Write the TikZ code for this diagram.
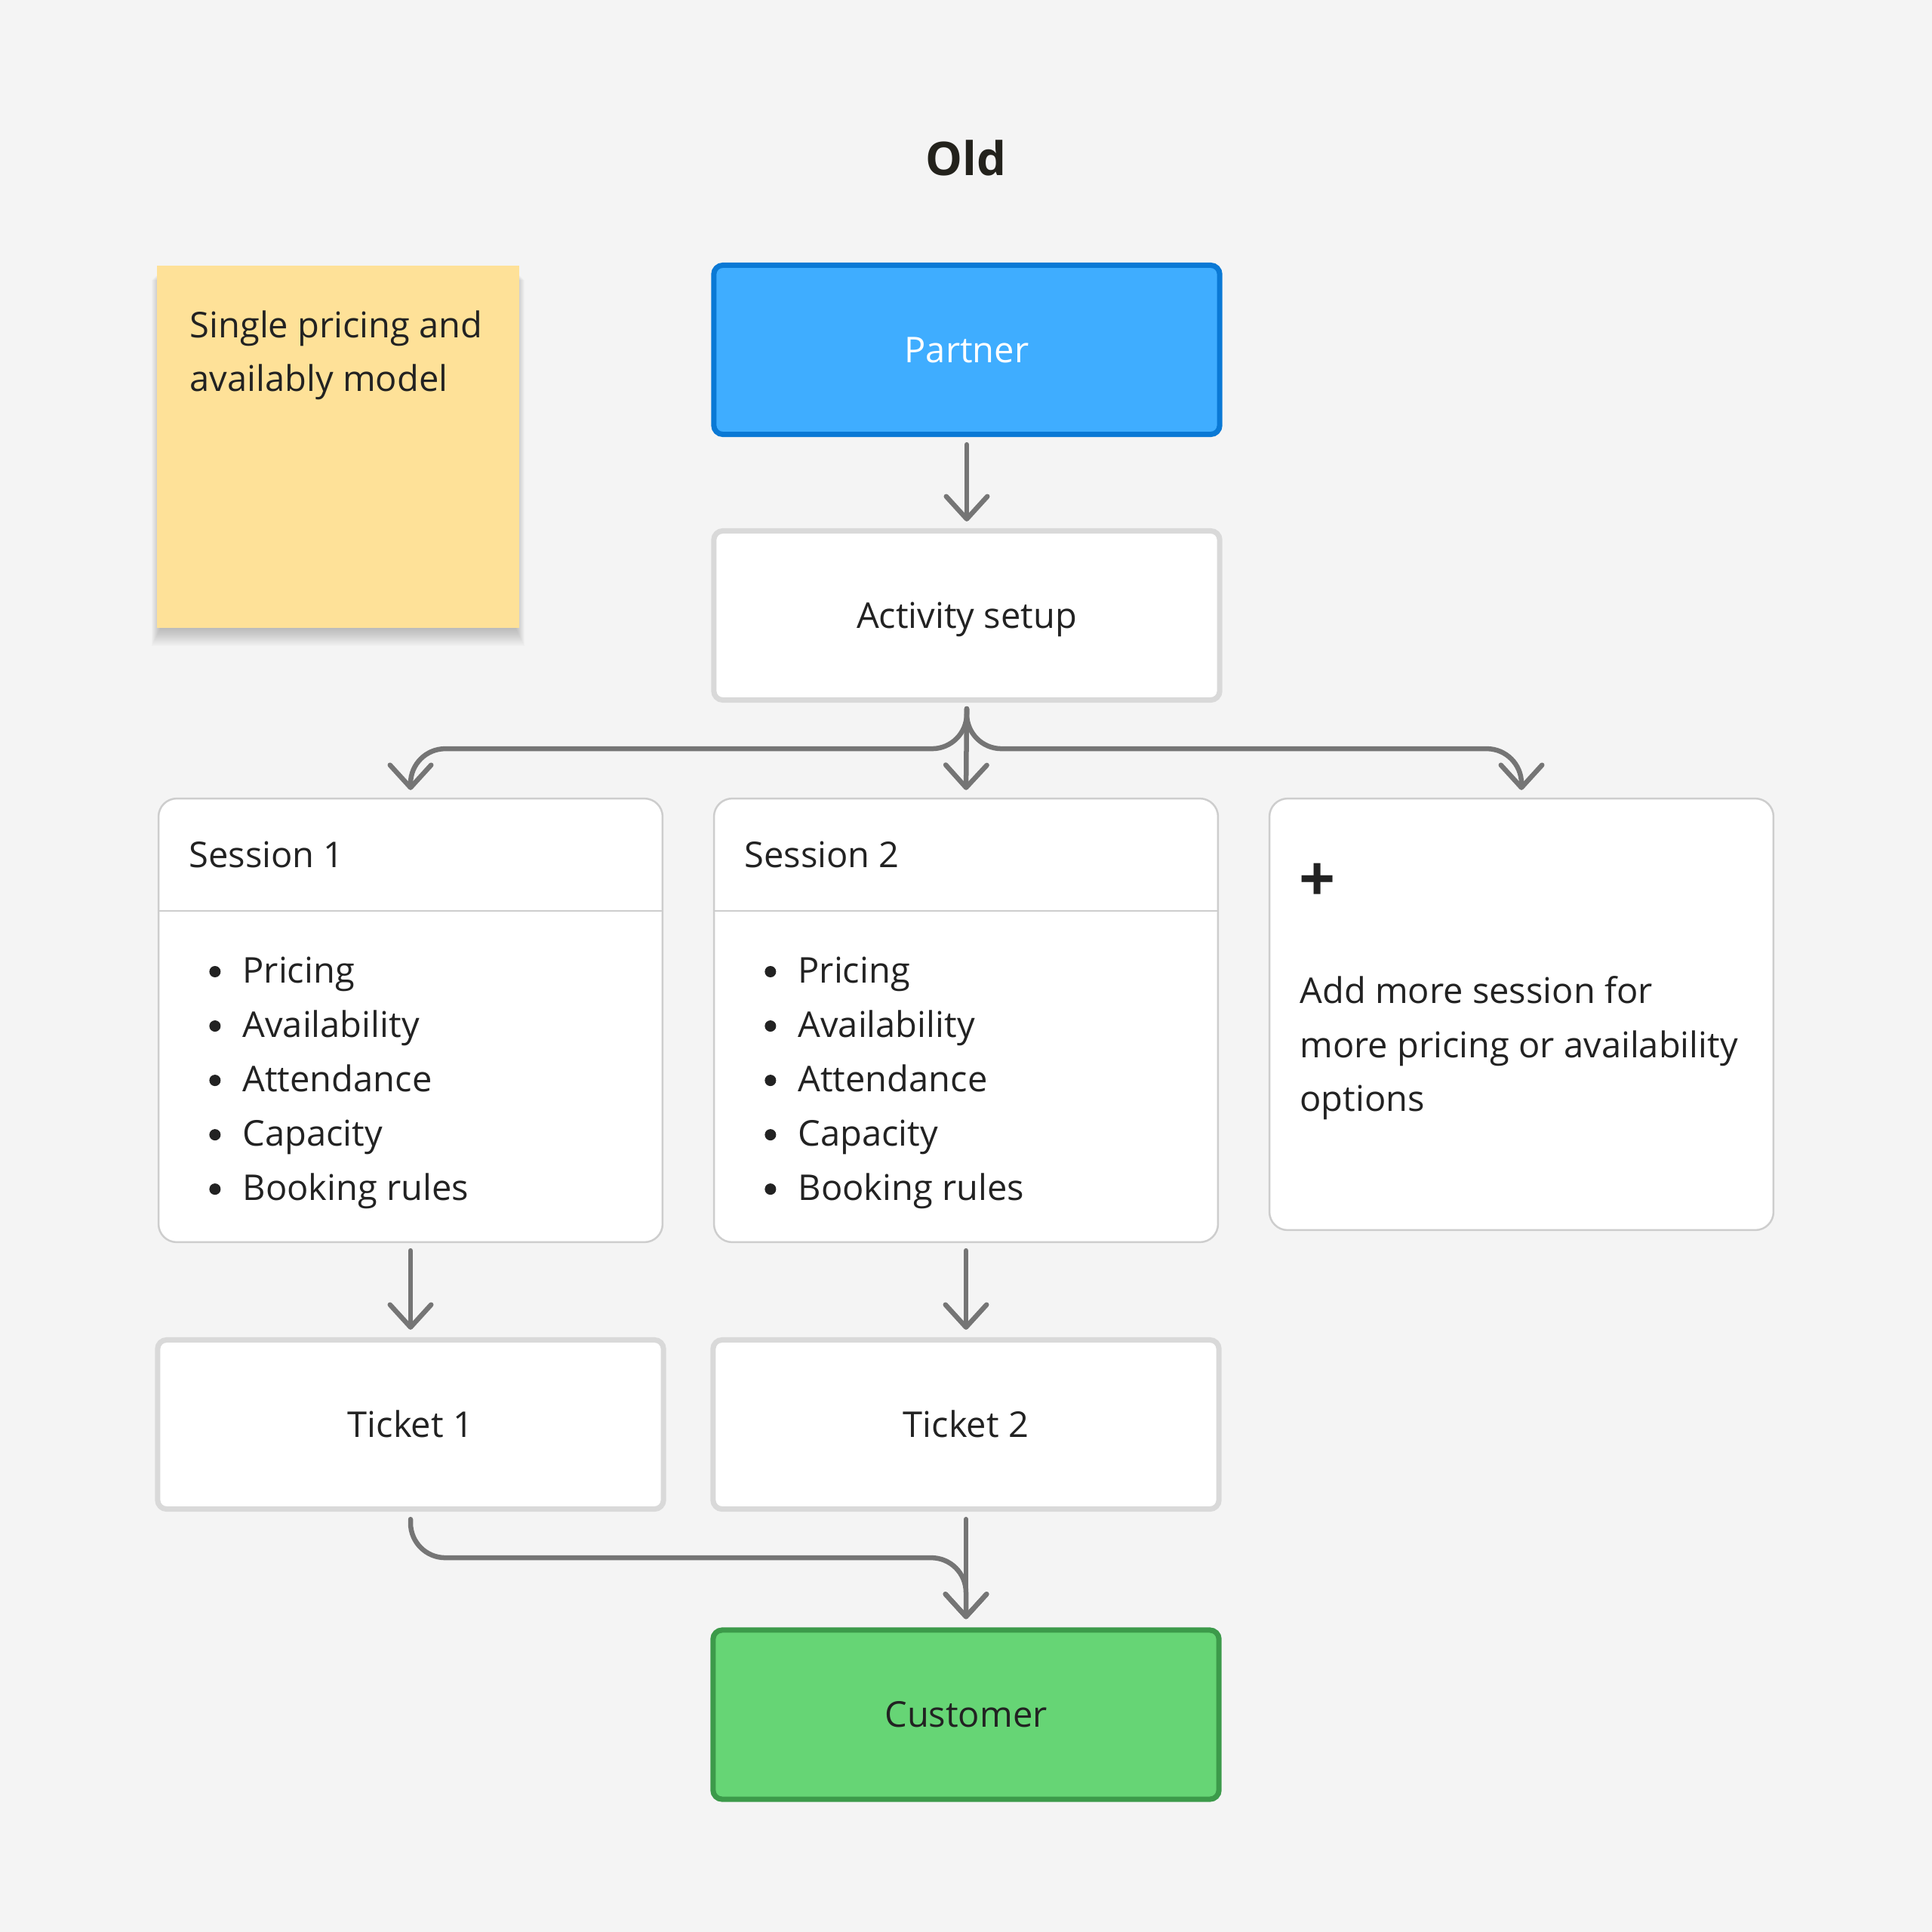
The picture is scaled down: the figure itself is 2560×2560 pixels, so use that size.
\documentclass[tikz,border=0pt]{standalone}
\usepackage{fontspec}
\setmainfont{Open Sans}
\usetikzlibrary{arrows.meta}
\definecolor{bg}{HTML}{F4F4F4}
\definecolor{ink}{HTML}{222222}
\definecolor{titleink}{HTML}{23221C}
\definecolor{connc}{HTML}{757575}
\definecolor{pfill}{HTML}{3FADFF}
\definecolor{pdraw}{HTML}{0A79D5}
\definecolor{cfill}{HTML}{66D575}
\definecolor{cdraw}{HTML}{3C9A4A}
\definecolor{wdraw}{HTML}{D9D9D9}
\definecolor{sdraw}{HTML}{CDCDCD}
\definecolor{sticky}{HTML}{FEE198}
\begin{document}
\begin{tikzpicture}[x=0.01cm,y=-0.01cm,
  txt/.style={font=\fontsize{13.37}{20.5}\selectfont, text=ink, inner sep=0pt},
  bigbox/.style={rectangle, rounded corners=0.12cm, line width=2pt, minimum width=6.7cm, minimum height=2.24cm, inner sep=0pt, text height=0.335cm, text depth=0pt, txt},
  wbox/.style={bigbox, draw=wdraw, fill=white},
  pbox/.style={bigbox, draw=pdraw, fill=pfill, text=white},
  cbox/.style={bigbox, draw=cdraw, fill=cfill},
  sbox/.style={rectangle, rounded corners=0.24cm, line width=0.7pt, draw=sdraw, fill=white, minimum width=6.675cm, inner sep=0pt},
  divider/.style={draw=sdraw, line width=0.7pt},
  bulletdot/.style={fill=ink},
  shadowlayer/.style={fill=black, opacity=0.02},
  conn/.style={draw=connc, line width=1.85pt, line cap=round, -{Straight Barb[length=8.5pt,width=15.5pt,round]}}
]
\fill[bg] (0,0) rectangle (2560,2560);
\useasboundingbox (0,0) rectangle (2560,2560);

% title
\node[font=\fontsize{17.5}{20}\selectfont\bfseries, text=titleink, inner sep=0pt, anchor=base] (title) at (1280,232) {Old};

% sticky note with soft shadow
\foreach \k in {0,...,11} {
  \fill[shadowlayer] (212-\k,360+\k) rectangle (684+\k,834+2*\k);
}
\node[rectangle, fill=sticky, minimum width=4.8cm, minimum height=4.8cm, inner sep=0pt] (note) at (448,592) {};
\node[txt, anchor=base west] (note1) at (251,447) {Single pricing and};
\node[txt, anchor=base west] (note2) at (251,518) {availably model};

% main boxes
\node[pbox] (partner) at (1281,463.5) {Partner};
\node[wbox] (act) at (1281,815.5) {Activity setup};

\node[sbox, minimum height=5.875cm] (s1) at (544,1352) {};
\node[sbox, minimum height=5.875cm] (s2) at (1280,1352) {};
\node[sbox, minimum height=5.715cm] (s3) at (2016,1344) {};

\foreach \s/\n in {s1/1, s2/2} {
  \draw[divider] ([yshift=-1.5cm]\s.north west) -- ([yshift=-1.5cm]\s.north east);
  \node[txt, anchor=base west] (\s h) at ([xshift=0.41cm, yshift=-0.93cm]\s.north west) {Session \n};
  \foreach \t [count=\i from 0] in {Pricing, Availability, Attendance, Capacity, Booking rules} {
    \fill[bulletdot] ([xshift=0.76cm, yshift=-2.305cm-0.72cm*\i]\s.north west) circle[radius=0.075cm];
    \node[txt, anchor=base west] (\s i\i) at ([xshift=1.12cm, yshift=-2.45cm-0.72cm*\i]\s.north west) {\t};
  }
}

\node[font=\fontsize{24}{24}\selectfont\bfseries, text=ink, inner sep=0pt] (plus) at ([xshift=0.65cm, yshift=-1.12cm]s3.north west) {+};
\node[txt, anchor=base west] (s3a) at ([xshift=0.41cm, yshift=-2.72cm]s3.north west) {Add more session for};
\node[txt, anchor=base west] (s3b) at ([xshift=0.41cm, yshift=-3.44cm]s3.north west) {more pricing or availability};
\node[txt, anchor=base west] (s3c) at ([xshift=0.41cm, yshift=-4.15cm]s3.north west) {options};

\node[wbox] (t1) at (544,1887.5) {Ticket 1};
\node[wbox] (t2) at (1280,1887.5) {Ticket 2};
\node[cbox] (cust) at (1280,2272) {Customer};

% connectors
\draw[conn, shorten <=0.1cm, shorten >=0.09cm] (partner.south) -- (act.north);
\draw[conn, shorten <=0.08cm, shorten >=0.1cm] (act.south) -- (s2.north);
\draw[conn, rounded corners=0.46cm, shorten <=0.08cm, shorten >=0.1cm] (act.south) -- ++(0,61) -| (s1.north);
\draw[conn, rounded corners=0.46cm, shorten <=0.08cm, shorten >=0.1cm] (act.south) -- ++(0,61) -| (s3.north);
\draw[conn, shorten <=0.1cm, shorten >=0.1cm] (s1.south) -- (t1.north);
\draw[conn, shorten <=0.1cm, shorten >=0.1cm] (s2.south) -- (t2.north);
\draw[conn, rounded corners=0.46cm, shorten <=0.1cm, shorten >=0.11cm] (t1.south) -- ++(0,61) -| (cust.north);
\draw[conn, shorten <=0.1cm, shorten >=0.11cm] (t2.south) -- (cust.north);
\end{tikzpicture}
\end{document}
